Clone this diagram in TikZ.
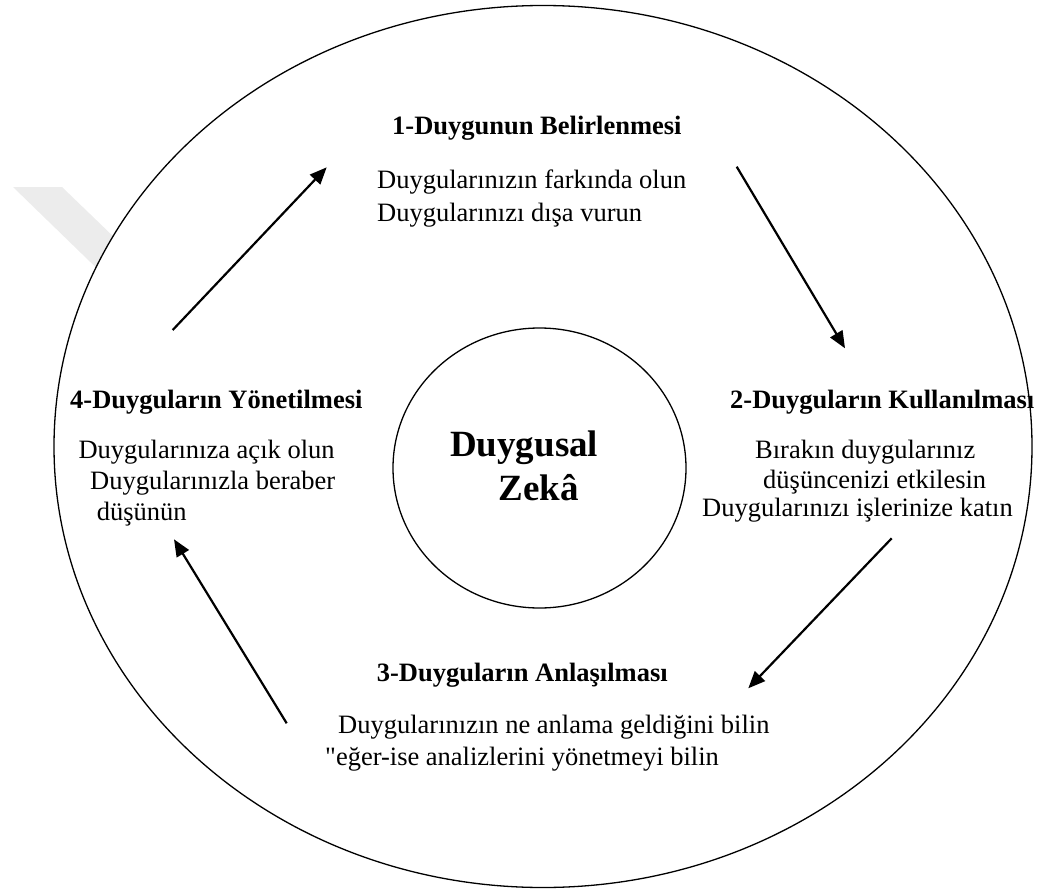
\documentclass[tikz,border=0pt]{standalone}
\usepackage{fontspec}
\setmainfont{Liberation Serif}[Ligatures=TeXOff]
\usetikzlibrary{arrows.meta}
\definecolor{wmgrey}{HTML}{ECECEC}
\tikzset{
  txt/.style={anchor=base west, inner sep=0pt, font=\fontsize{26.5}{31}\selectfont},
  ttl/.style={anchor=base west, inner sep=0pt, font=\fontsize{26.5}{31}\selectfont\bfseries},
  ctr/.style={anchor=base west, inner sep=0pt, font=\fontsize{37}{44}\selectfont\bfseries},
  cyc/.style={line width=2.2pt, -{Triangle[length=17pt,width=14pt]}},
  rim/.style={line width=1.3pt}
}
\begin{document}
\begin{tikzpicture}[x=1pt,y=-1pt]
\useasboundingbox (0,0) rectangle (1037,891);
% watermark fragment
\fill[wmgrey] (13,187) -- (62,187) -- (200,320) -- (150,320) -- cycle;
% outer ellipse and inner circle
\filldraw[rim, fill=white] (543,446.5) ellipse [x radius=489pt, y radius=441pt];
\draw[rim] (539.5,468) ellipse [x radius=146.5pt, y radius=140pt];
% centre
\node[ctr] (c1) at (450,456) {Duygusal};
\node[ctr] (c2) at (498.5,500) {Zekâ};
% 1
\node[ttl] (t1) at (392,135) {1-Duygunun Belirlenmesi};
\node[txt] (a1) at (377,188.3) {Duygularınızın farkında olun};
\node[txt] (a2) at (377,221.7) {Duygularınızı dışa vurun};
% 2
\node[ttl] (t2) at (730,408.3) {2-Duyguların Kullanılması};
\node[txt] (b1) at (755,458.3) {Bırakın duygularınız};
\node[txt] (b2) at (763,488.5) {düşüncenizi etkilesin};
\node[txt] (b3) at (702,516.7) {Duygularınızı işlerinize katın};
% 3
\node[ttl] (t3) at (376.7,681.7) {3-Duyguların Anlaşılması};
\node[txt] (d1) at (338,733) {Duygularınızın ne anlama geldiğini bilin};
\node[txt] (d2) at (325,765) {"eğer-ise analizlerini yönetmeyi bilin};
% 4
\node[ttl] (t4) at (70,408.3) {4-Duyguların Yönetilmesi};
\node[txt] (e1) at (78.3,458.3) {Duygularınıza açık olun};
\node[txt] (e2) at (90,489) {Duygularınızla beraber};
\node[txt] (e3) at (96.7,520) {düşünün};
% arrow end points
\coordinate (p4s) at (172.7,330);
\coordinate (p1e) at (326.7,167.3);
\coordinate (p1s) at (736.7,166.7);
\coordinate (p2e) at (845,348.3);
\coordinate (p2s) at (891.7,538.3);
\coordinate (p3e) at (748.3,688.3);
\coordinate (p3s) at (286.7,723.3);
\coordinate (p4e) at (174,539.3);
\draw[cyc] (p4s) -- (p1e);
\draw[cyc] (p1s) -- (p2e);
\draw[cyc] (p2s) -- (p3e);
\draw[cyc] (p3s) -- (p4e);
\end{tikzpicture}
\end{document}
